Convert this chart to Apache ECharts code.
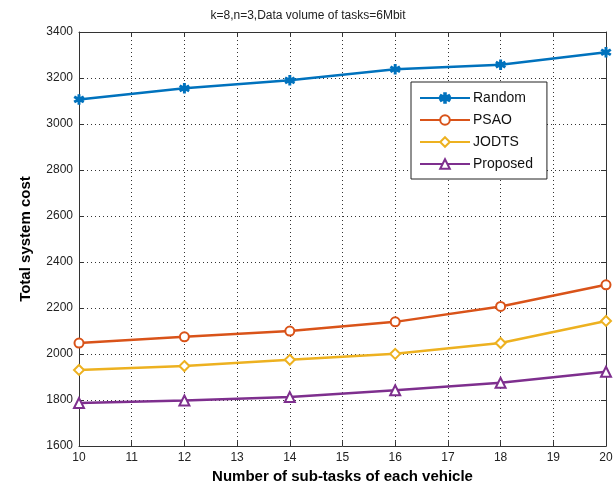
<!DOCTYPE html>
<html><head><meta charset="utf-8">
<script src="https://cdn.jsdelivr.net/npm/echarts@6/dist/echarts.min.js"></script>
<style>html,body{margin:0;padding:0;background:#fff}#c{width:616px;height:489px}</style>
</head><body><div id="c"></div>
<script>
const xValues = [10, 12, 14, 16, 18, 20];
const randomCost = [3107, 3155, 3190, 3238, 3258, 3312];
const psaoCost = [2048, 2075, 2100, 2140, 2207, 2301];
const jodtsCost = [1931, 1948, 1975, 2001, 2048, 2144];
const proposedCost = [1787, 1798, 1813, 1843, 1875, 1923];
const seriesNames = ['Random', 'PSAO', 'JODTS', 'Proposed'];
const colors = ['#0072BD', '#D95319', '#EDB120', '#7E2F8E'];

const star = 'path://M4.3,0 L5.7,0 L5.7,3.4 L8.6,1.7 L9.3,2.9 L6.4,4.6 L9.3,6.3 L8.6,7.5 L5.7,5.8 L5.7,9.2 L4.3,9.2 L4.3,5.8 L1.4,7.5 L0.7,6.3 L3.6,4.6 L0.7,2.9 L1.4,1.7 L4.3,3.4 Z';
const symbols = [star, 'emptyCircle', 'emptyDiamond', 'emptyTriangle'];
const sizes = [9, 9, 10, 10];
const all = [randomCost, psaoCost, jodtsCost, proposedCost];

const font = 'Liberation Sans, Arial, sans-serif';
const chart = echarts.init(document.getElementById('c'));
const axisLine = {show: true, lineStyle: {color: '#333', width: 1}};
const split = {show: true, lineStyle: {type: [1, 3], color: '#333', width: 1}};
chart.setOption({
  animation: false,
  title: {text: 'k=8,n=3,Data volume of tasks=6Mbit', left: 'center', top: 5,
    textStyle: {fontFamily: font, fontSize: 12, fontWeight: 'normal', color: '#222'}},
  grid: {left: 79, right: 10, top: 32, bottom: 30},
  legend: {orient: 'vertical', left: 411, top: 82, data: seriesNames,
    backgroundColor: '#fff', borderColor: '#222', borderWidth: 1,
    padding: [9, 14, 8, 8], itemGap: 8, itemWidth: 50, itemHeight: 12,
    textStyle: {fontFamily: font, fontSize: 14, color: '#111', padding: [0, 0, 0, -2]}},
  xAxis: [{type: 'value', min: 10, max: 20, interval: 1,
    name: 'Number of sub-tasks of each vehicle', nameLocation: 'middle', nameGap: 21,
    nameTextStyle: {fontFamily: font, fontSize: 15, fontWeight: 'bold', color: '#000'},
    axisLine: axisLine, axisTick: {inside: true, length: 5, lineStyle: {color: '#333'}},
    axisLabel: {fontFamily: font, fontSize: 12, color: '#222', margin: 6},
    splitLine: split},
    {type: 'value', position: 'top', min: 10, max: 20, interval: 1,
    axisLine: axisLine, axisTick: {inside: true, length: 5, lineStyle: {color: '#333'}},
    axisLabel: {show: false}, splitLine: {show: false}}],
  yAxis: [{type: 'value', min: 1600, max: 3400, interval: 200,
    name: 'Total system cost', nameLocation: 'middle', nameGap: 46,
    nameTextStyle: {fontFamily: font, fontSize: 15, fontWeight: 'bold', color: '#000'},
    axisLine: axisLine, axisTick: {inside: true, length: 5, lineStyle: {color: '#333'}},
    axisLabel: {fontFamily: font, fontSize: 12, color: '#222', margin: 6, formatter: v => String(v)},
    splitLine: split},
    {type: 'value', position: 'right', min: 1600, max: 3400, interval: 200,
    axisLine: axisLine, axisTick: {inside: true, length: 5, lineStyle: {color: '#333'}},
    axisLabel: {show: false}, splitLine: {show: false}}],
  series: seriesNames.map((n, i) => ({
    name: n, type: 'line', xAxisIndex: 0, yAxisIndex: 0,
    data: xValues.map((x, j) => [x, all[i][j]]),
    symbol: symbols[i], symbolSize: sizes[i], showAllSymbol: true,
    color: colors[i],
    lineStyle: {color: colors[i], width: 2.5},
    itemStyle: {color: colors[i], borderColor: colors[i], borderWidth: 1.5}
  }))
});
</script></body></html>
